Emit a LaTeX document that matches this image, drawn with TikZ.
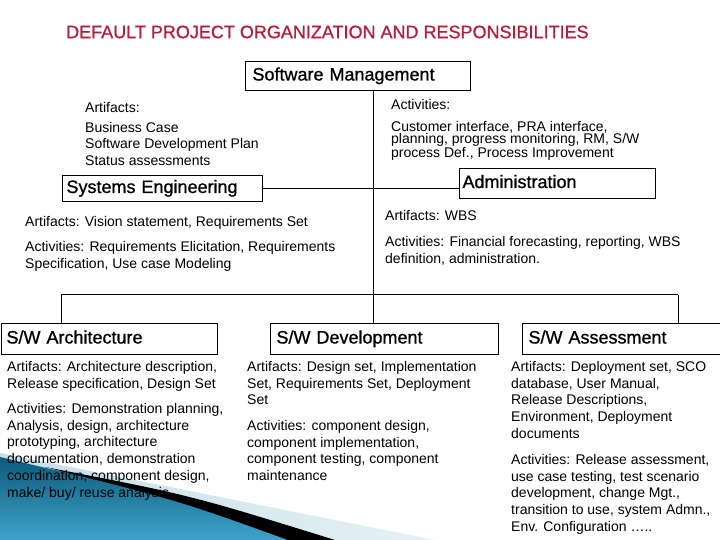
\documentclass[tikz,border=0pt]{standalone}
\usepackage{fontspec}
\setmainfont{Liberation Sans}
\newfontfamily\hdrfont[FakeBold=0.9]{Liberation Sans}
\definecolor{titlered}{HTML}{B4203C}
\definecolor{swlightA}{HTML}{C6DFE9}
\definecolor{swlightB}{HTML}{E6F1F6}
\definecolor{swdarkA}{HTML}{0C5A79}
\definecolor{swdarkB}{HTML}{3FA3CB}
\begin{document}
\begin{tikzpicture}[x=1pt,y=-1pt,
  hdr/.style={draw, line width=1pt, anchor=north west, align=left, inner ysep=0pt,
              text height=13pt, text depth=4pt,
              font=\hdrfont\fontsize{18}{20}\selectfont},
  body/.style={anchor=north west, inner sep=0pt, align=left,
               font=\fontsize{14}{16.75}\selectfont},
  wire/.style={line width=1pt}]
\useasboundingbox (0,0) rectangle (720,540);
\fill[white] (0,0) rectangle (720,540);

% decorative swoosh
\shade[left color=swlightA, right color=swlightB] (0,453) -- (435,540) -- (0,540) -- cycle;
\shade[top color=swdarkA, bottom color=swdarkB]
  (0,457) -- (50,469) .. controls (190,496) .. (333,540) -- (0,540) -- cycle;
\fill[black] (45,467) .. controls (190,495) .. (335,540) -- (288,540)
  .. controls (180,501) .. (45,467) -- cycle;

% title
\node[anchor=west, inner sep=0pt, text=titlered, font=\hdrfont\fontsize{18}{20}\selectfont]
  (title) at (66,32) {DEFAULT PROJECT ORGANIZATION AND RESPONSIBILITIES};

% boxes
\node[hdr, inner xsep=7pt, text width=211pt, minimum height=29pt] (sm) at (245,61) {Software Management};
\node[hdr, inner xsep=4pt, text width=192pt, minimum height=26pt] (se) at (62,175) {Systems Engineering};
\node[hdr, inner xsep=3pt, text width=190pt, minimum height=30pt] (adm) at (459,168) {Administration};
\node[hdr, inner xsep=5pt, text width=206pt, minimum height=31pt] (arch) at (1,323) {S/W Architecture};
\node[hdr, inner xsep=6pt, text width=216pt, minimum height=31pt] (dev) at (270,323) {S/W Development};
\node[hdr, inner xsep=6pt, text width=198pt, minimum height=31pt] (ass) at (522,323) {S/W Assessment};

% connectors
\coordinate (barL) at (61,294.5);
\coordinate (barM) at (373,294.5);
\coordinate (barR) at (678,294.5);
\draw[wire] (sm.south -| barM) -- (barM);
\draw[wire] (se.east) -- (se.east -| adm.west);
\draw[wire] (barL) -- (barR);
\draw[wire] (barL) -- (barL |- arch.north);
\draw[wire] (barM) -- (barM |- dev.north);
\draw[wire] (barR) -- (barR |- ass.north);

% software management texts
\node[body] (smart) at (85,102.5) {Artifacts:};
\node[body, font=\fontsize{14}{16.5}\selectfont] (smartl) at (85,122)
  {Business Case\\Software Development Plan\\Status assessments};
\node[body] (smact) at (391,99) {Activities:};
\node[body, font=\fontsize{14}{12.5}\selectfont] (smactl) at (391,121)
  {Customer interface, PRA interface,\\planning, progress monitoring, RM, S/W\\process Def., Process Improvement};

% systems engineering texts
\node[body] (seart) at (25,216) {Artifacts: Vision statement, Requirements Set};
\node[body, font=\fontsize{14}{17.5}\selectfont] (seact) at (25,241)
  {Activities: Requirements Elicitation, Requirements\\Specification, Use case Modeling};

% administration texts
\node[body] (admart) at (385,210) {Artifacts: WBS};
\node[body, font=\fontsize{14}{17}\selectfont] (admact) at (385,236)
  {Activities: Financial forecasting, reporting, WBS\\definition, administration.};

% architecture texts
\node[body] (archart) at (7,361)
  {Artifacts: Architecture description,\\Release specification, Design Set};
\node[body] (archact) at (7,403)
  {Activities: Demonstration planning,\\Analysis, design, architecture\\prototyping, architecture\\documentation, demonstration\\coordination, component design,\\make/ buy/ reuse analysis};

% development texts
\node[body] (devart) at (247,361)
  {Artifacts: Design set, Implementation\\Set, Requirements Set, Deployment\\Set};
\node[body] (devact) at (247,420)
  {Activities: component design,\\component implementation,\\component testing, component\\maintenance};

% assessment texts
\node[body] (assart) at (511,361)
  {Artifacts: Deployment set, SCO\\database, User Manual,\\Release Descriptions,\\Environment, Deployment\\documents};
\node[body] (assact) at (511,454)
  {Activities: Release assessment,\\use case testing, test scenario\\development, change Mgt.,\\transition to use, system Admn.,\\Env. Configuration …..};
\end{tikzpicture}
\end{document}
